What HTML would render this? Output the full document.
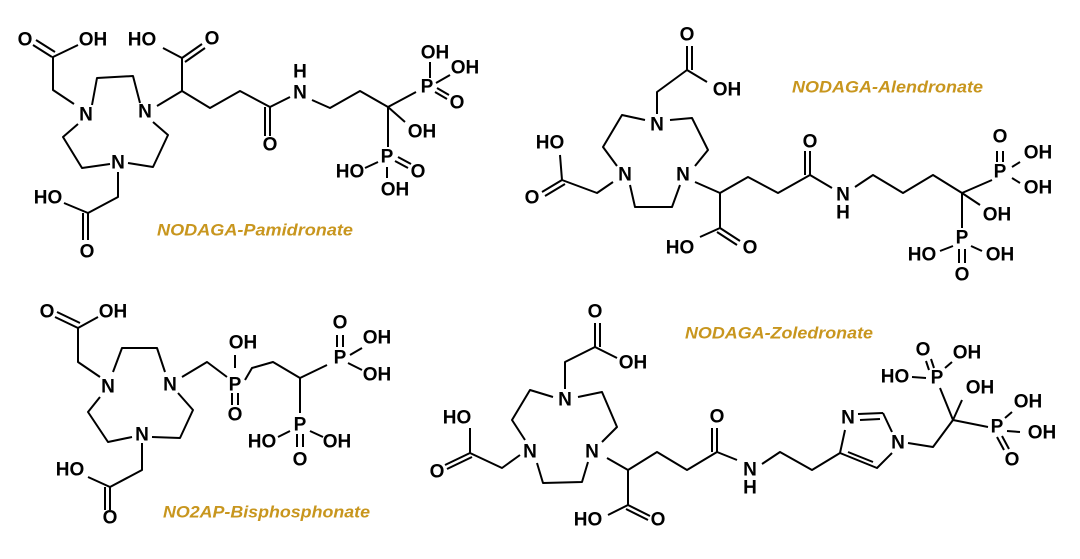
<!DOCTYPE html>
<html><head><meta charset="utf-8"><style>
html,body{margin:0;padding:0;background:#fff;}
svg{display:block}
.t{font-family:"Liberation Sans",Arial,sans-serif;font-size:19px;font-weight:bold;fill:#000;text-anchor:middle;dominant-baseline:central}
.l{font-family:"Liberation Sans",Arial,sans-serif;font-size:17px;font-weight:bold;font-style:italic;fill:#c8961e;dominant-baseline:central}
line,polyline{stroke:#000;stroke-width:2;fill:none;stroke-linejoin:round}
</style></head><body>
<svg width="1080" height="559" viewBox="0 0 1080 559" xmlns="http://www.w3.org/2000/svg">
<!-- Molecule 1 -->
<g>
<text class="t" x="25" y="40">O</text><text class="t" x="93" y="40">OH</text>
<text class="t" x="142" y="40">HO</text><text class="t" x="212" y="39">O</text>
<text class="t" x="86" y="115">N</text><text class="t" x="145" y="112">N</text><text class="t" x="118" y="163">N</text>
<text class="t" x="300" y="72">H</text><text class="t" x="300" y="93">N</text>
<text class="t" x="270" y="145">O</text>
<text class="t" x="435" y="53">OH</text><text class="t" x="465" y="68">OH</text>
<text class="t" x="427" y="87">P</text><text class="t" x="457" y="103">O</text>
<text class="t" x="422" y="132">OH</text>
<text class="t" x="387" y="157">P</text><text class="t" x="350" y="172">HO</text><text class="t" x="418" y="172">O</text><text class="t" x="395" y="190">OH</text>
<text class="t" x="48" y="198">HO</text><text class="t" x="87" y="252">O</text>
<text class="l" x="157" y="230" textLength="196" lengthAdjust="spacingAndGlyphs">NODAGA-Pamidronate</text>
<line x1="33" y1="45" x2="52" y2="57"/><line x1="36" y1="40" x2="55" y2="52"/>
<polyline points="78,45 53,57 53,90 74,104"/>
<polyline points="92,105 97,78 133,76 140,103"/>
<polyline points="78,124 63,137 82,168 110,164"/>
<polyline points="128,163 153,167 168,135 153,122"/>
<polyline points="118,172 118,197 88,213 64,203"/>
<line x1="88" y1="213" x2="88" y2="240"/><line x1="83" y1="213" x2="83" y2="240"/>
<polyline points="157,106 182,91 210,108 240,91 270,107 290,97"/>
<polyline points="163,48 182,58 182,91"/>
<line x1="182" y1="58" x2="202" y2="44"/><line x1="185" y1="62" x2="205" y2="48"/>
<line x1="270" y1="107" x2="270" y2="136"/><line x1="265" y1="107" x2="265" y2="136"/>
<polyline points="312,100 330,108 360,91 388,107 416,92"/>
<line x1="388" y1="107" x2="405" y2="122"/><line x1="388" y1="107" x2="388" y2="147"/>
<line x1="430" y1="62" x2="430" y2="78"/><line x1="436" y1="83" x2="450" y2="75"/>
<line x1="435" y1="92" x2="447" y2="99"/><line x1="437" y1="88" x2="449" y2="95"/>
<line x1="365" y1="168" x2="378" y2="162"/><line x1="395" y1="161" x2="408" y2="168"/><line x1="398" y1="157" x2="411" y2="164"/>
<line x1="387" y1="167" x2="387" y2="178"/>
</g>
<!-- Molecule 2 -->
<g>
<text class="t" x="687" y="35">O</text><text class="t" x="727" y="90">OH</text>
<text class="t" x="550" y="143">HO</text><text class="t" x="532" y="198">O</text>
<text class="t" x="657" y="125">N</text><text class="t" x="625" y="175">N</text><text class="t" x="683" y="175">N</text>
<text class="t" x="810" y="142">O</text><text class="t" x="843" y="195">N</text><text class="t" x="843" y="213">H</text>
<text class="t" x="1000" y="137">O</text><text class="t" x="1038" y="153">OH</text><text class="t" x="1000" y="172">P</text><text class="t" x="1038" y="188">OH</text>
<text class="t" x="997" y="215">OH</text>
<text class="t" x="962" y="238">P</text><text class="t" x="922" y="255">HO</text><text class="t" x="1000" y="255">OH</text><text class="t" x="962" y="275">O</text>
<text class="t" x="680" y="248">HO</text><text class="t" x="750" y="248">O</text>
<text class="l" x="792" y="87" textLength="191" lengthAdjust="spacingAndGlyphs">NODAGA-Alendronate</text>
<line x1="687" y1="70" x2="687" y2="46"/><line x1="692" y1="70" x2="692" y2="46"/>
<polyline points="707,82 687,70 657,92 657,114"/>
<polyline points="645,120 622,115 603,147 617,166"/>
<polyline points="670,120 692,118 708,150 695,166"/>
<polyline points="630,185 635,207 672,207 680,185"/>
<polyline points="613,182 597,193 562,180 560,155"/>
<line x1="562" y1="180" x2="542" y2="192"/><line x1="565" y1="184" x2="545" y2="196"/>
<polyline points="695,182 720,193 720,228 700,237"/>
<line x1="720" y1="228" x2="740" y2="241"/><line x1="717" y1="232" x2="737" y2="245"/>
<polyline points="720,193 748,177 778,193 810,175 832,188"/>
<line x1="810" y1="175" x2="810" y2="151"/><line x1="805" y1="175" x2="805" y2="151"/>
<polyline points="855,187 873,175 903,193 933,175 962,193 992,180"/>
<line x1="962" y1="193" x2="980" y2="205"/><line x1="962" y1="193" x2="962" y2="228"/>
<line x1="997" y1="162" x2="997" y2="151"/><line x1="1003" y1="162" x2="1003" y2="151"/>
<line x1="1012" y1="167" x2="1020" y2="162"/><line x1="1012" y1="178" x2="1020" y2="183"/>
<line x1="940" y1="251" x2="953" y2="246"/><line x1="971" y1="246" x2="982" y2="251"/>
<line x1="959" y1="249" x2="959" y2="263"/><line x1="965" y1="249" x2="965" y2="263"/>
</g>
<!-- Molecule 3 -->
<g>
<text class="t" x="47" y="312">O</text><text class="t" x="113" y="312">OH</text>
<text class="t" x="108" y="387">N</text><text class="t" x="170" y="385">N</text><text class="t" x="142" y="435">N</text>
<text class="t" x="243" y="343">OH</text><text class="t" x="235" y="385">P</text><text class="t" x="235" y="415">O</text>
<text class="t" x="340" y="323">O</text><text class="t" x="377" y="338">OH</text><text class="t" x="340" y="358">P</text><text class="t" x="377" y="375">OH</text>
<text class="t" x="300" y="425">P</text><text class="t" x="262" y="442">HO</text><text class="t" x="337" y="442">OH</text><text class="t" x="300" y="460">O</text>
<text class="t" x="70" y="470">HO</text><text class="t" x="110" y="518">O</text>
<text class="l" x="163" y="512" textLength="207" lengthAdjust="spacingAndGlyphs">NO2AP-Bisphosphonate</text>
<line x1="55" y1="317" x2="78" y2="328"/><line x1="57" y1="312" x2="80" y2="323"/>
<polyline points="98,317 78,328 78,362 100,377"/>
<polyline points="113,372 122,348 157,348 165,372"/>
<polyline points="100,397 88,412 108,442 132,437"/>
<polyline points="152,437 180,438 193,410 178,393"/>
<polyline points="142,443 142,470 110,487 88,477"/>
<line x1="110" y1="487" x2="110" y2="510"/><line x1="105" y1="487" x2="105" y2="510"/>
<polyline points="182,377 207,362 227,377"/>
<line x1="235" y1="368" x2="235" y2="355"/>
<line x1="232" y1="393" x2="232" y2="405"/><line x1="238" y1="393" x2="238" y2="405"/>
<polyline points="245,380 252,368 273,362 300,378 327,365"/>
<line x1="300" y1="378" x2="300" y2="413"/>
<line x1="337" y1="347" x2="337" y2="335"/><line x1="343" y1="347" x2="343" y2="335"/>
<line x1="350" y1="355" x2="362" y2="348"/><line x1="348" y1="363" x2="362" y2="370"/>
<line x1="278" y1="437" x2="290" y2="431"/><line x1="310" y1="431" x2="323" y2="437"/>
<line x1="297" y1="434" x2="297" y2="447"/><line x1="303" y1="434" x2="303" y2="447"/>
</g>
<!-- Molecule 4 -->
<g>
<text class="t" x="595" y="312">O</text><text class="t" x="633" y="363">OH</text>
<text class="t" x="565" y="400">N</text><text class="t" x="530" y="452">N</text><text class="t" x="592" y="452">N</text>
<text class="t" x="457" y="418">HO</text><text class="t" x="437" y="472">O</text>
<text class="t" x="588" y="520">HO</text><text class="t" x="658" y="520">O</text>
<text class="t" x="717" y="417">O</text><text class="t" x="750" y="470">N</text><text class="t" x="750" y="488">H</text>
<text class="t" x="848" y="418">N</text><text class="t" x="898" y="443">N</text>
<text class="t" x="923" y="350">O</text><text class="t" x="967" y="353">OH</text><text class="t" x="895" y="377">HO</text><text class="t" x="937" y="378">P</text><text class="t" x="980" y="388">OH</text>
<text class="t" x="1028" y="402">OH</text><text class="t" x="997" y="427">P</text><text class="t" x="1042" y="433">OH</text><text class="t" x="1012" y="460">O</text>
<text class="l" x="685" y="333" textLength="188" lengthAdjust="spacingAndGlyphs">NODAGA-Zoledronate</text>
<line x1="595" y1="347" x2="595" y2="323"/><line x1="600" y1="347" x2="600" y2="323"/>
<polyline points="617,358 595,347 565,362 565,389"/>
<polyline points="553,397 530,390 512,420 525,440"/>
<polyline points="578,397 602,392 617,427 602,442"/>
<polyline points="537,463 543,483 582,482 588,462"/>
<polyline points="520,455 502,468 470,453 470,428"/>
<line x1="470" y1="453" x2="445" y2="465"/><line x1="472" y1="457" x2="447" y2="469"/>
<polyline points="607,458 628,470 628,505 608,515"/>
<line x1="628" y1="505" x2="650" y2="516"/><line x1="626" y1="509" x2="648" y2="520"/>
<polyline points="628,470 657,452 687,470 717,452 737,460"/>
<line x1="717" y1="452" x2="717" y2="428"/><line x1="712" y1="452" x2="712" y2="428"/>
<polyline points="762,464 780,452 812,470 840,453"/>
<line x1="840" y1="453" x2="845" y2="430"/>
<line x1="858" y1="414" x2="883" y2="413"/><line x1="860" y1="420" x2="880" y2="419"/>
<line x1="883" y1="413" x2="892" y2="432"/>
<polyline points="892,453 877,468 840,453"/><line x1="873" y1="462" x2="848" y2="452"/>
<polyline points="908,443 933,447 953,420 940,388"/>
<line x1="953" y1="420" x2="962" y2="400"/><line x1="953" y1="420" x2="988" y2="427"/>
<line x1="926" y1="361" x2="929" y2="370"/><line x1="931" y1="359" x2="934" y2="368"/>
<line x1="945" y1="368" x2="952" y2="362"/><line x1="912" y1="377" x2="926" y2="378"/>
<line x1="1005" y1="418" x2="1012" y2="412"/><line x1="1007" y1="431" x2="1020" y2="432"/>
<line x1="997" y1="437" x2="1004" y2="450"/><line x1="1002" y1="436" x2="1009" y2="449"/>
</g>
</svg>
</body></html>
